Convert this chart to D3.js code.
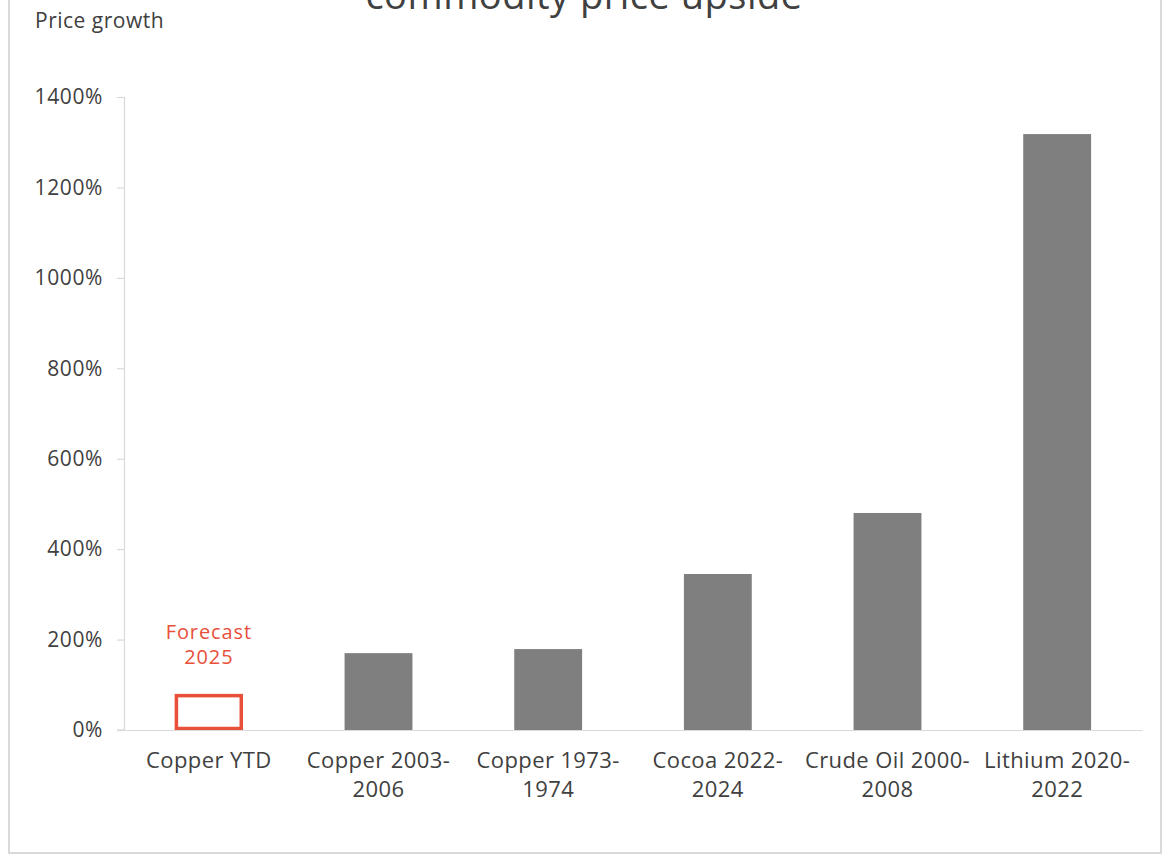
<!DOCTYPE html>
<html>
<head>
<meta charset="utf-8">
<script src="https://cdn.jsdelivr.net/npm/d3@7"></script>
<style>
  html, body { margin: 0; padding: 0; background: #fff; }
  svg { display: block; font-family: "Open Sans", "Noto Sans", sans-serif; }
</style>
</head>
<body>
<svg id="chart" width="1166" height="857"></svg>
<script>
const categories = [
  ["Copper YTD"],
  ["Copper 2003-", "2006"],
  ["Copper 1973-", "1974"],
  ["Cocoa 2022-", "2024"],
  ["Crude Oil 2000-", "2008"],
  ["Lithium 2020-", "2022"]
];
const growth = [0, 170, 179, 345, 480, 1318];
const forecast = [76, null, null, null, null, null];
const yTicks = [0, 200, 400, 600, 800, 1000, 1200, 1400];
const titleText = "commodity price upside";
const yAxisTitle = "Price growth";
const forecastLabel = ["Forecast", "2025"];

(function () {
const svg = d3.select("#chart");
const textColor = "#404040";
const gridColor = "#d9d9d9";
const barColor = "#7f7f7f";
const redColor = "#e8503a";

// outer frame
svg.append("rect")
  .attr("x", 9).attr("y", -20)
  .attr("width", 1152).attr("height", 873)
  .attr("fill", "none").attr("stroke", "#d9d9d9").attr("stroke-width", 2);

// title (cut off at top, as in the reference)
svg.append("text")
  .attr("x", 584).attr("y", 9)
  .attr("text-anchor", "middle")
  .attr("font-size", 38)
  .attr("letter-spacing", 0.5)
  .attr("fill", textColor)
  .text(titleText);

svg.append("text")
  .attr("x", 35).attr("y", 28)
  .attr("font-size", 21)
  .attr("letter-spacing", 0.5)
  .attr("fill", textColor)
  .text(yAxisTitle);

const pLeft = 124, pRight = 1142, pTop = 97, pBottom = 730;

const x = d3.scaleBand()
  .domain(categories.map((d, i) => i))
  .range([pLeft, pRight])
  .paddingInner(0.6)
  .paddingOuter(0.3);

const y = d3.scaleLinear().domain([0, 1400]).range([pBottom, pTop]);

// y axis
const yAxis = d3.axisLeft(y)
  .tickValues(yTicks)
  .tickSize(7)
  .tickPadding(14)
  .tickFormat(d => d + "%");
const gy = svg.append("g").attr("transform", `translate(${pLeft},0)`).call(yAxis);
gy.select(".domain").attr("stroke", gridColor).attr("stroke-width", 1.2);
gy.selectAll(".tick line").attr("stroke", gridColor).attr("stroke-width", 1.2);
gy.selectAll(".tick text").attr("font-size", 21).attr("fill", textColor)
  .attr("letter-spacing", 0.6)
  .attr("font-family", '"Open Sans", sans-serif');

// bars
svg.append("g").selectAll("rect")
  .data(growth.map((v, i) => ({ v, i })))
  .join("rect")
  .attr("x", d => x(d.i))
  .attr("width", x.bandwidth())
  .attr("y", d => y(d.v))
  .attr("height", d => y(0) - y(d.v))
  .attr("fill", barColor);

// forecast outlines
const fc = forecast.map((v, i) => ({ v, i })).filter(d => d.v != null);
svg.append("g").selectAll("rect")
  .data(fc)
  .join("rect")
  .attr("x", d => x(d.i) + 1.5)
  .attr("width", x.bandwidth() - 3)
  .attr("y", d => y(d.v))
  .attr("height", d => y(0) - y(d.v) - 1.5)
  .attr("fill", "none")
  .attr("stroke", redColor)
  .attr("stroke-width", 3.5);

// forecast label (two separate lines)
fc.forEach(d => {
  forecastLabel.forEach((line, k) => {
    svg.append("text")
      .attr("text-anchor", "middle")
      .attr("font-size", 20)
      .attr("letter-spacing", 0.9)
      .attr("fill", redColor)
      .attr("x", x(d.i) + x.bandwidth() / 2)
      .attr("y", y(d.v) - 57 + k * 25)
      .text(line);
  });
});

// x axis baseline
const xAxis = d3.axisBottom(x).tickSize(0).tickFormat("");
const gx = svg.append("g").attr("transform", `translate(0,${pBottom})`).call(xAxis);
gx.select(".domain").attr("stroke", gridColor).attr("stroke-width", 1.2);
svg.append("line")
  .attr("x1", pLeft - 7).attr("x2", pLeft)
  .attr("y1", pBottom).attr("y2", pBottom)
  .attr("stroke", gridColor).attr("stroke-width", 1.2);

// category labels
categories.forEach((lines, i) => {
  const t = svg.append("text")
    .attr("text-anchor", "middle")
    .attr("font-size", 22)
    .attr("letter-spacing", 0.4)
    .attr("fill", textColor);
  lines.forEach((line, k) => {
    t.append("tspan")
      .attr("x", x(i) + x.bandwidth() / 2)
      .attr("y", 768 + k * 29)
      .text(line);
  });
});
})();
</script>
</body>
</html>
